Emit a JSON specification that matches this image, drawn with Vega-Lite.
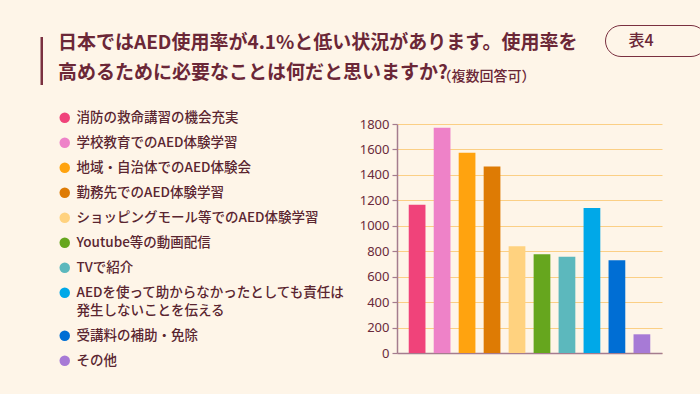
{
  "$schema": "https://vega.github.io/schema/vega-lite/v6.json",
  "width": 265,
  "height": 229,
  "autosize": {"type": "none"},
  "padding": {"left": 397, "top": 124, "right": 38, "bottom": 41},
  "background": "#fef5e8",
  "title": {
    "text": ["日本ではAED使用率が4.1%と低い状況があります。使用率を", "高めるために必要なことは何だと思いますか?"],
    "anchor": "start",
    "frame": "group",
    "dx": -339,
    "dy": 58,
    "font": "Noto Sans CJK JP",
    "fontSize": 19,
    "fontWeight": "bold",
    "color": "#6b2737",
    "lineHeight": 30,
    "baseline": "top",
    "offset": 0
  },
  "data": {
    "values": [
      {"item": "消防の救命講習の機会充実", "count": 1165},
      {"item": "学校教育でのAED体験学習", "count": 1771},
      {"item": "地域・自治体でのAED体験会", "count": 1575},
      {"item": "勤務先でのAED体験学習", "count": 1465},
      {"item": "ショッピングモール等でのAED体験学習", "count": 839},
      {"item": "Youtube等の動画配信", "count": 776},
      {"item": "TVで紹介", "count": 756},
      {"item": "AEDを使って助からなかったとしても責任は発生しないことを伝える", "count": 1140},
      {"item": "受講料の補助・免除", "count": 729},
      {"item": "その他", "count": 147}
    ]
  },
  "layer": [
    {
      "mark": {"type": "bar"},
      "encoding": {
        "x": {
          "field": "item",
          "type": "nominal",
          "sort": null,
          "scale": {"paddingInner": 0.33, "paddingOuter": 0.47},
          "axis": {
            "labels": false,
            "ticks": false,
            "domainColor": "#a57c8e",
            "domainWidth": 1.5,
            "title": "（複数回答可）",
            "titleX": 40,
            "titleY": -277,
            "titleAlign": "left",
            "titleBaseline": "middle",
            "titleAngle": 0,
            "titleFont": "Noto Sans CJK JP",
            "titleFontSize": 14,
            "titleFontWeight": 500,
            "titleColor": "#6b2737"
          }
        },
        "y": {
          "field": "count",
          "type": "quantitative",
          "scale": {"domain": [0, 1800], "nice": false},
          "axis": {
            "values": [0, 200, 400, 600, 800, 1000, 1200, 1400, 1600, 1800],
            "format": "d",
            "labelOverlap": false,
            "title": null,
            "grid": true,
            "gridColor": "#fbcf85",
            "gridWidth": 1.2,
            "domainColor": "#a57c8e",
            "domainWidth": 1.5,
            "tickColor": "#a57c8e",
            "tickSize": 5,
            "tickWidth": 1.2,
            "labelPadding": 3,
            "labelFont": "Noto Sans",
            "labelFontSize": 13,
            "labelColor": "#6a2a3a"
          }
        },
        "color": {
          "field": "item",
          "type": "nominal",
          "sort": null,
          "scale": {"range": ["#f0437a", "#ee82c8", "#ffa30f", "#de7b04", "#ffd27f", "#66a61e", "#5cb8bd", "#00a8e8", "#006ed4", "#a77ad6"]},
          "legend": {
            "orient": "none",
            "legendX": -339,
            "legendY": -13,
            "title": null,
            "padding": 0,
            "symbolType": "circle",
            "symbolSize": 110,
            "symbolStrokeWidth": 0,
            "labelFont": "Noto Sans CJK JP",
            "labelFontSize": 13.5,
            "labelFontWeight": 500,
            "labelColor": "#5a2530",
            "labelOffset": 5,
            "rowPadding": 10,
            "labelLimit": 400,
            "labelExpr": "datum.label == 'AEDを使って助からなかったとしても責任は発生しないことを伝える' ? ['AEDを使って助からなかったとしても責任は', '発生しないことを伝える'] : datum.label"
          }
        }
      }
    },
    {
      "mark": {"type": "point", "opacity": 0},
      "encoding": {
        "shape": {
          "datum": "表4",
          "legend": {
            "orient": "none",
            "legendX": 208,
            "legendY": -99,
            "title": "表表表",
            "titleOrient": "right",
            "titleOpacity": 0,
            "titleFontSize": 15,
            "titlePadding": 0,
            "padding": 7.5,
            "strokeColor": "#7a3040",
            "cornerRadius": 15.5,
            "symbolSize": 0,
            "symbolOpacity": 0,
            "symbolStrokeWidth": 0,
            "labelOffset": 0,
            "labelFont": "Noto Sans CJK JP",
            "labelFontSize": 16,
            "labelFontWeight": 500,
            "labelColor": "#6b2737"
          }
        },
        "fill": {
          "field": "count",
          "type": "quantitative",
          "scale": {"range": ["#7a3040", "#7a3040"]},
          "legend": {
            "orient": "none",
            "legendX": -356.5,
            "legendY": -87,
            "title": null,
            "direction": "vertical",
            "gradientLength": 48,
            "gradientThickness": 2.5,
            "gradientStrokeWidth": 0,
            "labelOpacity": 0,
            "labelFontSize": 1,
            "labelExpr": "''",
            "padding": 0
          }
        }
      }
    }
  ],
  "config": {
    "view": {"stroke": null},
    "style": {"guide-label": {"lineHeight": 18}}
  }
}
